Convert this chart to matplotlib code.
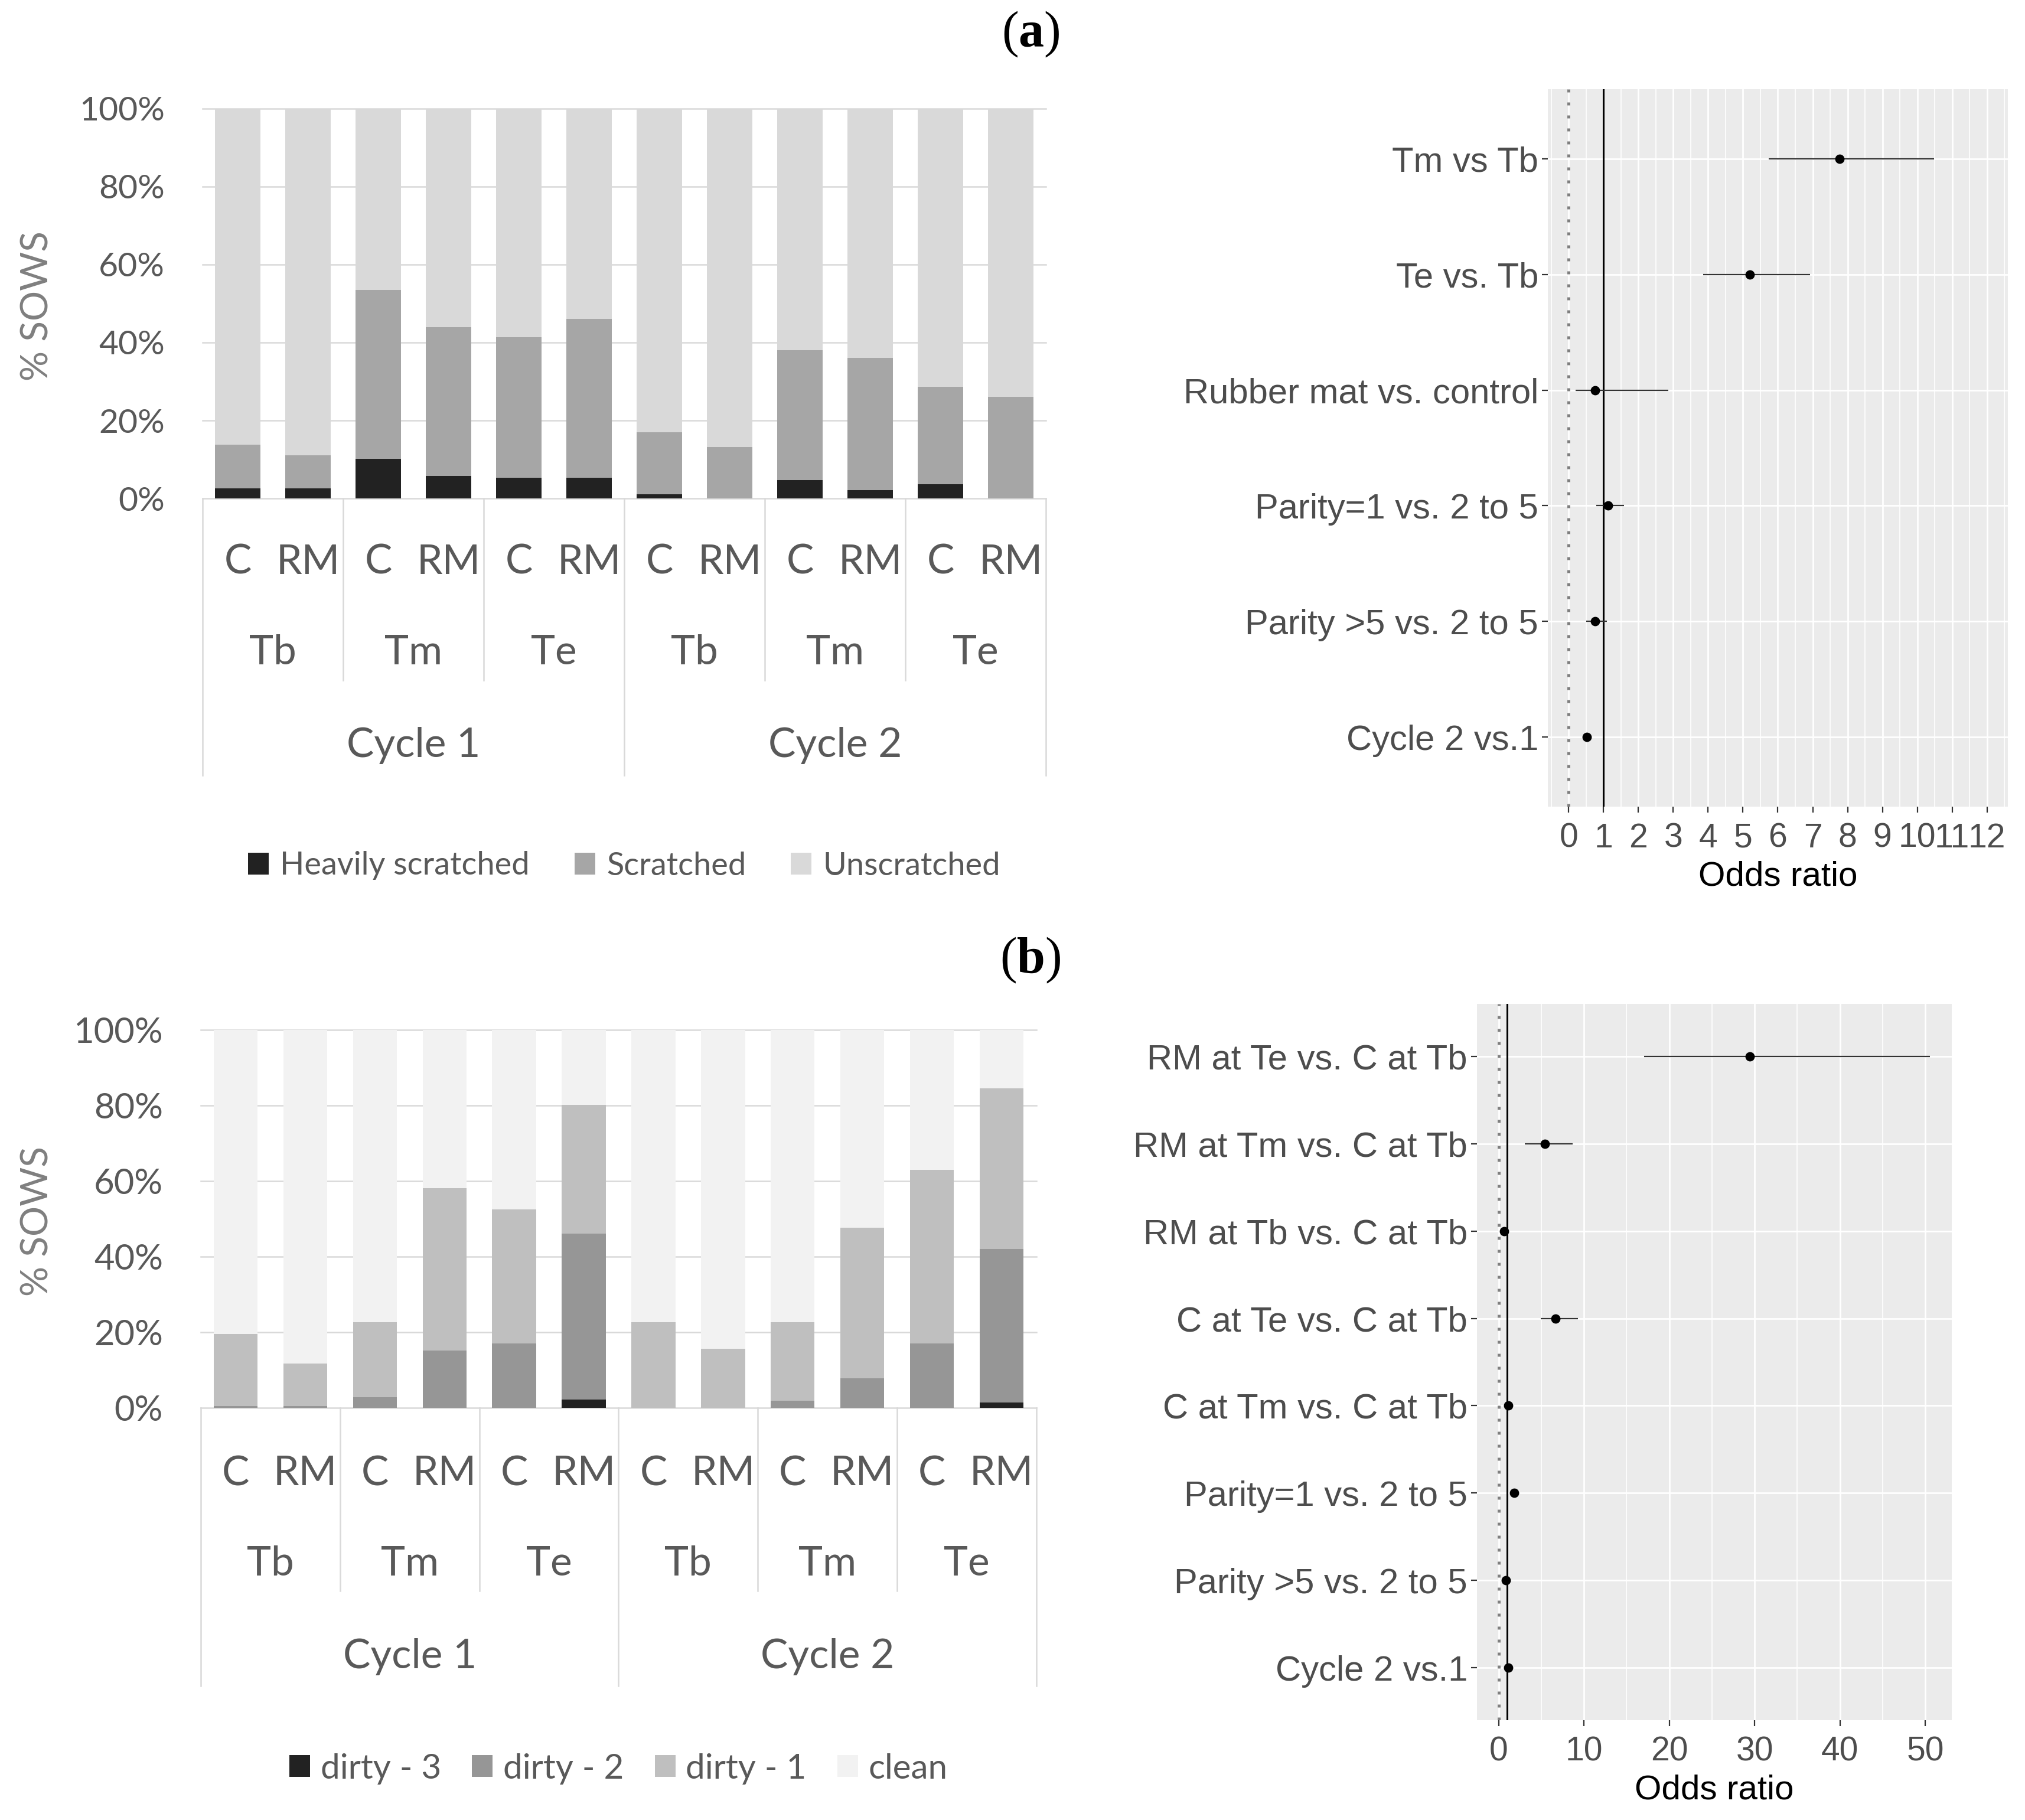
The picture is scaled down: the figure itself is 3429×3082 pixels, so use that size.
"""
Sow scratch / dirtiness bar charts with odds-ratio forest plots, panels (a) and (b).
"""

import numpy as np
import matplotlib
matplotlib.use("Agg")
import matplotlib.pyplot as plt
from matplotlib.patches import Patch
from matplotlib.transforms import blended_transform_factory
from matplotlib.ticker import MultipleLocator

# =========================================================
# Data
# =========================================================
GROUPS = ["C", "RM"] * 6
PERIODS = ["Tb", "Tm", "Te", "Tb", "Tm", "Te"]
CYCLES = ["Cycle 1", "Cycle 2"]

# panel (a): % sows per scratch class
heavy_a = np.array([2.6, 2.6, 10.1, 5.8, 5.3, 5.3, 1.0, 0.0, 4.7, 2.1, 3.7, 0.0])
scratched_a = np.array([11.2, 8.5, 43.4, 38.2, 36.0, 40.8, 15.9, 13.2, 33.4, 33.9, 24.9, 26.0])
unscratched_a = 100 - heavy_a - scratched_a
names_a = ["Heavily scratched", "Scratched", "Unscratched"]

# panel (b): % sows per dirtiness score
dirty3_b = np.array([0.0, 0.0, 0.0, 0.0, 0.0, 2.2, 0.0, 0.0, 0.0, 0.0, 0.0, 1.4])
dirty2_b = np.array([0.4, 0.4, 2.8, 15.2, 17.0, 43.9, 0.0, 0.0, 1.8, 7.8, 17.0, 40.7])
dirty1_b = np.array([19.2, 11.3, 19.8, 42.9, 35.5, 34.0, 22.6, 15.6, 20.8, 39.9, 45.9, 42.4])
clean_b = 100 - dirty3_b - dirty2_b - dirty1_b
names_b = ["dirty - 3", "dirty - 2", "dirty - 1", "clean"]

# odds ratios, top to bottom
or_labels_a = ["Tm vs Tb", "Te vs. Tb", "Rubber mat vs. control",
               "Parity=1 vs. 2 to 5", "Parity >5 vs. 2 to 5", "Cycle 2 vs.1"]
or_a = [7.77, 5.20, 0.75, 1.13, 0.75, 0.52]
lo_a = [5.74, 3.85, 0.19, 0.79, 0.50, 0.45]
hi_a = [10.49, 6.93, 2.86, 1.58, 1.10, 0.60]

or_labels_b = ["RM at Te vs. C at Tb", "RM at Tm vs. C at Tb", "RM at Tb vs. C at Tb",
               "C at Te vs. C at Tb", "C at Tm vs. C at Tb", "Parity=1 vs. 2 to 5",
               "Parity >5 vs. 2 to 5", "Cycle 2 vs.1"]
or_b = [29.46, 5.40, 0.65, 6.70, 1.15, 1.83, 0.83, 1.15]
lo_b = [17.06, 3.05, 0.40, 4.96, 0.90, 1.40, 0.60, 1.00]
hi_b = [50.57, 8.70, 0.95, 9.31, 1.40, 2.30, 1.10, 1.30]

# =========================================================
# Figure setup
# =========================================================
W, H = 3430, 3082
DPI = 200

plt.rcParams["font.family"] = ["Liberation Sans", "DejaVu Sans"]
plt.rcParams["mathtext.fontset"] = "custom"
plt.rcParams["mathtext.rm"] = "Liberation Serif"
plt.rcParams["mathtext.bf"] = "Liberation Serif:bold"

fig = plt.figure(figsize=(W / DPI, H / DPI), dpi=DPI)

BAR_FONT = "Lato"
BAR_TXT = "#595959"
GRID_XL = "#d9d9d9"


def fy(py):
    return 1 - py / H


def px_axes(x0, y0, x1, y1):
    return fig.add_axes([x0 / W, fy(y1), (x1 - x0) / W, (y1 - y0) / H])


def stacked_panel(box, segments, colors, width, rows, tick_size, ylab_y,
                  names, legend_y, legend_size, leg_opts):
    ax = px_axes(*box)
    x = np.arange(len(GROUPS))
    bottom = np.zeros(len(x))
    for vals, col in zip(segments, colors):
        ax.bar(x, vals, width, bottom=bottom, color=col, zorder=2)
        bottom = bottom + vals

    ax.set_xlim(-0.5, len(GROUPS) - 0.5)
    ax.set_ylim(0, 100)
    yt = np.arange(0, 101, 20)
    for v in yt:
        ax.axhline(v, color=GRID_XL, lw=0.9, zorder=1, clip_on=False)
    ax.set_yticks(yt)
    ax.set_yticklabels([f"{v}%" for v in yt], fontfamily=BAR_FONT)
    ax.tick_params(axis="y", length=0, pad=23, labelsize=tick_size,
                   labelcolor=BAR_TXT)
    ax.set_xticks([])
    for s in ax.spines.values():
        s.set_visible(False)

    # multi-level category axis
    trans = blended_transform_factory(ax.transData, fig.transFigure)
    y0 = box[3]
    y_grp, y_per, y_cyc, inner_end, outer_end = rows
    for xs in [-0.5, 5.5, 11.5]:
        ax.plot([xs, xs], [fy(y0), fy(outer_end)], color=GRID_XL, lw=0.9,
                transform=trans, clip_on=False)
    for xs in [1.5, 3.5, 7.5, 9.5]:
        ax.plot([xs, xs], [fy(y0), fy(inner_end)], color=GRID_XL, lw=0.9,
                transform=trans, clip_on=False)
    for i, g in enumerate(GROUPS):
        ax.text(i, fy(y_grp), g, transform=trans, ha="center", va="baseline",
                fontsize=25, color=BAR_TXT, fontfamily=BAR_FONT)
    for i, p in enumerate(PERIODS):
        ax.text(2 * i + 0.5, fy(y_per), p, transform=trans, ha="center",
                va="baseline", fontsize=25, color=BAR_TXT, fontfamily=BAR_FONT)
    for i, c in enumerate(CYCLES):
        ax.text(6 * i + 2.5, fy(y_cyc), c, transform=trans, ha="center",
                va="baseline", fontsize=25, color=BAR_TXT, fontfamily=BAR_FONT)

    fig.text(63 / W, fy(ylab_y), "% SOWS", rotation=90, ha="center",
             va="center", fontsize=23, color="#7f7f7f", fontfamily=BAR_FONT)

    handles = [Patch(facecolor=c, edgecolor="none") for c in colors]
    cx = (box[0] + box[2]) / 2 / W
    fig.legend(handles, names, loc="center", bbox_to_anchor=(cx, fy(legend_y)),
               ncol=len(names), frameon=False, labelcolor=BAR_TXT,
               prop={"family": BAR_FONT, "size": legend_size}, **leg_opts)
    return ax


def forest_panel(box, labels, orv, lo, hi, xlim, major, minor):
    ax = px_axes(*box)
    n = len(labels)
    y = np.arange(n, 0, -1)
    ax.set_facecolor("#ebebeb")
    ax.axvline(0, color="#7f7f7f", lw=1.8, ls=(0, (1, 3.4)), zorder=2)
    ax.axvline(1, color="black", lw=1.1, zorder=3)
    ax.hlines(y, lo, hi, color="#333333", lw=0.8, zorder=4)
    ax.plot(orv, y, "o", color="black", ms=4.7, zorder=5)

    ax.set_yticks(y)
    ax.set_yticklabels(labels)
    ax.set_ylim(0.4, n + 0.6)
    ax.set_xlim(*xlim)
    ax.xaxis.set_major_locator(MultipleLocator(major))
    ax.xaxis.set_minor_locator(MultipleLocator(minor))
    ax.grid(which="major", color="white", lw=1.0)
    ax.grid(which="minor", axis="x", color="white", lw=0.6)
    ax.set_axisbelow(True)
    for s in ax.spines.values():
        s.set_visible(False)
    ax.tick_params(which="major", length=3.6, width=0.8, color="#333333",
                   labelcolor="#4d4d4d")
    ax.tick_params(axis="y", which="major", labelsize=21.5, pad=2.2)
    ax.tick_params(axis="x", which="major", labelsize=20.5, pad=6)
    ax.tick_params(which="minor", length=0)
    ax.set_xlabel("Odds ratio", fontsize=21, color="black", labelpad=4)
    return ax


def panel_title(letter, cy):
    fig.text(1745 / W, fy(cy), "(" + r"$\mathbf{" + letter + "}$" + ")",
             ha="center", va="center", fontsize=31, fontfamily="Liberation Serif")


# =========================================================
# Panel (a)
# =========================================================
panel_title("a", 58)
stacked_panel((343, 184, 1771, 844),
              [heavy_a, scratched_a, unscratched_a],
              ["#222222", "#a6a6a6", "#d9d9d9"], 0.65,
              (972, 1125, 1282, 1152, 1313), 20.5, 518,
              names_a, 1466, 19.5,
              dict(handlelength=0.65, handleheight=0.65, handletextpad=0.35,
                   columnspacing=1.4))
forest_panel((2621, 151, 3400, 1366), or_labels_a, or_a, lo_a, hi_a,
             (-0.6, 12.6), 1, 0.5)

# =========================================================
# Panel (b)
# =========================================================
panel_title("b", 1626)
stacked_panel((340, 1744, 1755, 2384),
              [dirty3_b, dirty2_b, dirty1_b, clean_b],
              ["#222222", "#969696", "#bfbfbf", "#f2f2f2"], 0.63,
              (2515, 2668, 2825, 2694, 2855), 21.5, 2068,
              names_b, 2995, 21,
              dict(handlelength=0.6, handleheight=0.6, handletextpad=0.3,
                   columnspacing=0.9))
forest_panel((2501, 1700, 3305, 2913), or_labels_b, or_b, lo_b, hi_b,
             (-2.53, 53.1), 10, 5)

fig.savefig("out.png", dpi=DPI)
